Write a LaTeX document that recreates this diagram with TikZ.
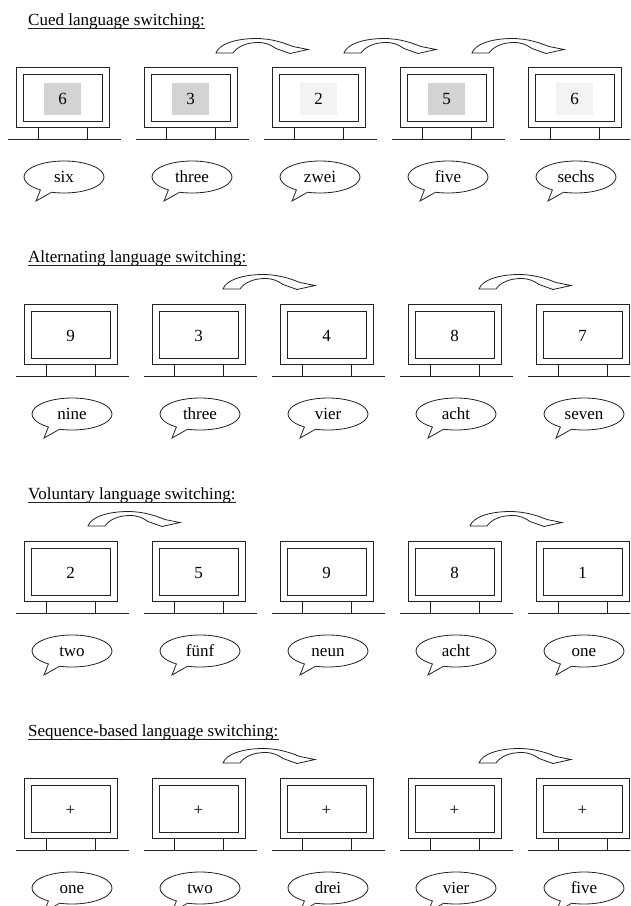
\documentclass[tikz,border=0pt]{standalone}
\usepackage{fontspec}
\setmainfont{Liberation Serif}
\usetikzlibrary{calc}

\definecolor{shadeA}{HTML}{D3D3D3}
\definecolor{shadeB}{HTML}{F3F3F3}
\definecolor{ink}{HTML}{222222}

\tikzset{
  screen/.style={draw=ink, line width=0.9pt},
  standline/.style={draw=ink, line width=0.9pt},
  numlabel/.style={font=\fontsize{17}{20}\selectfont, inner sep=0pt,
                   text height=10pt, text depth=0pt},
  bubble/.style={draw=ink, line width=0.8pt, fill=white},
  turnarrow/.style={draw=ink, line width=0.8pt, fill=white},
  heading/.style={font=\fontsize{17}{20}\selectfont, inner sep=0pt, anchor=base west},
  underrule/.style={draw=ink, line width=0.8pt},
}

% monitor: name, centre x, top y, label, colour of the patch behind the label
\newcommand\monitorat[5]{%
  \begin{scope}[shift={(#2,#3)}]
    \draw[screen] (-46.5,0) rectangle (46.5,60);
    \draw[screen] (-39.5,7) rectangle (39.5,54);
    \fill[#5] (-18.5,16) rectangle (18.5,48);
    \draw[standline] (-24,60) -- (-24,72) (25,60) -- (25,72);
    \draw[standline] (-54.5,72) -- (58.5,72);
    \node[numlabel] (#1) at (0,32) {#4};
  \end{scope}}

% speech bubble: name, centre x, centre y, word
\newcommand\speechat[4]{%
  \begin{scope}[shift={(#2,#3)}]
    \draw[bubble] (126.1:40 and 16)
      arc[start angle=126.1, end angle=468, x radius=40, y radius=16]
      -- (-28,24) -- cycle;
    \node[numlabel] (#1) at (0,0) {#4};
  \end{scope}}

% curved block arrow: foot x, foot y
\newcommand\bendarrow[2]{%
  \begin{scope}[shift={(#1,#2)}]
    \draw[turnarrow] (0,0) .. controls (3,-9) and (20,-14.5) .. (40,-14.5)
      .. controls (56,-14.5) and (68,-10) .. (77,-6.5) -- (92,-3.5) -- (74,0.5)
      -- (60,-4.5) .. controls (55,-8) and (50,-10.5) .. (42,-10.5)
      .. controls (30,-10.5) and (21,-6) .. (17,0) -- cycle;
  \end{scope}}

% title with rule beneath: name, baseline y, text
\newcommand\rowtitle[3]{%
  \node[heading] (#1) at (28,#2) {#3};
  \draw[underrule] ($(#1.base west)+(0,3)$) -- ($(#1.base east)+(0,3)$);}

\begin{document}
\begin{tikzpicture}[x=1pt, y=-1pt]
  \useasboundingbox (0,0) rectangle (630,906);
  \clip (0,0) rectangle (630,906);
  \fill[white] (0,0) rectangle (630,906);

  % cued
  \rowtitle{t1}{25}{Cued language switching:}
  \foreach \i/\n/\w/\c in {0/6/six/shadeA, 1/3/three/shadeA, 2/2/zwei/shadeB,
                           3/5/five/shadeA, 4/6/sechs/shadeB}{
    \monitorat{m1\i}{62.5+128*\i}{67}{\n}{\c}
    \speechat{w1\i}{64+128*\i}{177}{\w}
  }
  \bendarrow{216}{53}
  \bendarrow{344}{53}
  \bendarrow{472}{53}

  % alternating
  \rowtitle{t2}{262}{Alternating language switching:}
  \foreach \i/\n/\w in {0/9/nine, 1/3/three, 2/4/vier, 3/8/acht, 4/7/seven}{
    \monitorat{m2\i}{70.5+128*\i}{304}{\n}{white}
    \speechat{w2\i}{72+128*\i}{414}{\w}
  }
  \bendarrow{223}{289}
  \bendarrow{479}{289}

  % voluntary
  \rowtitle{t3}{499}{Voluntary language switching:}
  \foreach \i/\n/\w in {0/2/two, 1/5/fünf, 2/9/neun, 3/8/acht, 4/1/one}{
    \monitorat{m3\i}{70.5+128*\i}{541}{\n}{white}
    \speechat{w3\i}{72+128*\i}{651}{\w}
  }
  \bendarrow{88}{526}
  \bendarrow{470}{526}

  % sequence-based
  \rowtitle{t4}{736}{Sequence-based language switching:}
  \foreach \i/\w in {0/one, 1/two, 2/drei, 3/vier, 4/five}{
    \monitorat{m4\i}{70.5+128*\i}{778}{+}{white}
    \speechat{w4\i}{72+128*\i}{888}{\w}
  }
  \bendarrow{223}{763}
  \bendarrow{479}{763}
\end{tikzpicture}
\end{document}
